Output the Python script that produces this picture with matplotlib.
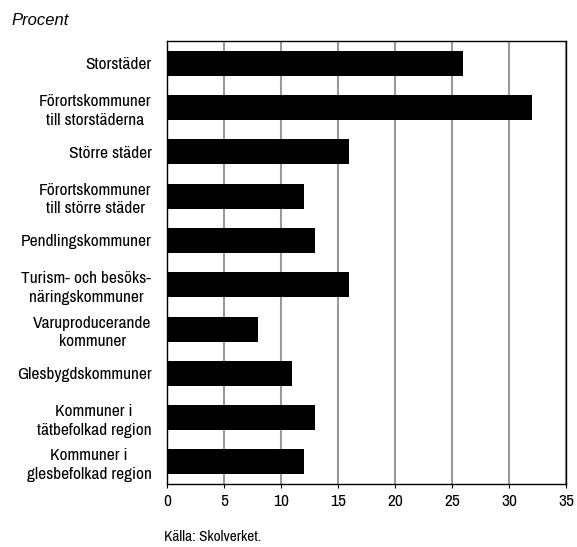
import matplotlib.pyplot as plt
from matplotlib import font_manager

categories = [
    'Storstäder',
    'Förortskommuner\ntill storstäderna',
    'Större städer',
    'Förortskommuner\ntill större städer',
    'Pendlingskommuner',
    'Turism- och besöks-\nnäringskommuner',
    'Varuproducerande\nkommuner',
    'Glesbygdskommuner',
    'Kommuner i\ntätbefolkad region',
    'Kommuner i\nglesbefolkad region',
]
values = [26, 32, 16, 12, 13, 16, 8, 11, 13, 12]
xticks = [0, 5, 10, 15, 20, 25, 30, 35]

# look for a narrow font, the reference uses a condensed face
narrow = None
for f in font_manager.fontManager.ttflist:
    if 'Narrow' in f.name or 'Condensed' in f.name:
        narrow = f.name
        break
if narrow is None:
    for f in font_manager.fontManager.ttflist:
        if f.stretch in ('condensed', 'semi-condensed', 'extra-condensed') and f.style == 'normal':
            narrow = f.name
            break
cond = [narrow, 'DejaVu Sans'] if narrow else ['Roboto', 'DejaVu Sans']

fig = plt.figure(figsize=(5.77, 5.47), dpi=100)
ax = fig.add_axes([0.289, 0.115, 0.692, 0.81])

pos = list(range(len(categories)))
ax.barh(pos, values, height=0.565, color='black', zorder=3)

ax.set_xlim(0, 35)
ax.set_ylim(len(categories) - 0.5, -0.5)
ax.set_xticks(xticks)
ax.set_xticklabels([str(t) for t in xticks], family=cond, fontsize=12.5,
                   stretch='condensed')
ax.set_yticks(pos)
ax.set_yticklabels(categories, family=cond, fontsize=12.5, stretch='condensed',
                   multialignment='center', linespacing=1.3)
ax.tick_params(axis='y', length=0, pad=11)
ax.tick_params(axis='x', length=3, direction='out', pad=4)
ax.xaxis.grid(True, color='#999999', linewidth=1.5, zorder=0)

for s in ax.spines.values():
    s.set_linewidth(1.0)
    s.set_color('black')

fig.text(0.02, 0.962, 'Procent', fontsize=12, style='italic',
         family='Liberation Sans', va='center')
fig.text(0.285, 0.018, 'Källa: Skolverket.', fontsize=11, family=cond,
         stretch='condensed', va='center')

fig.savefig('out.png', dpi=100)
